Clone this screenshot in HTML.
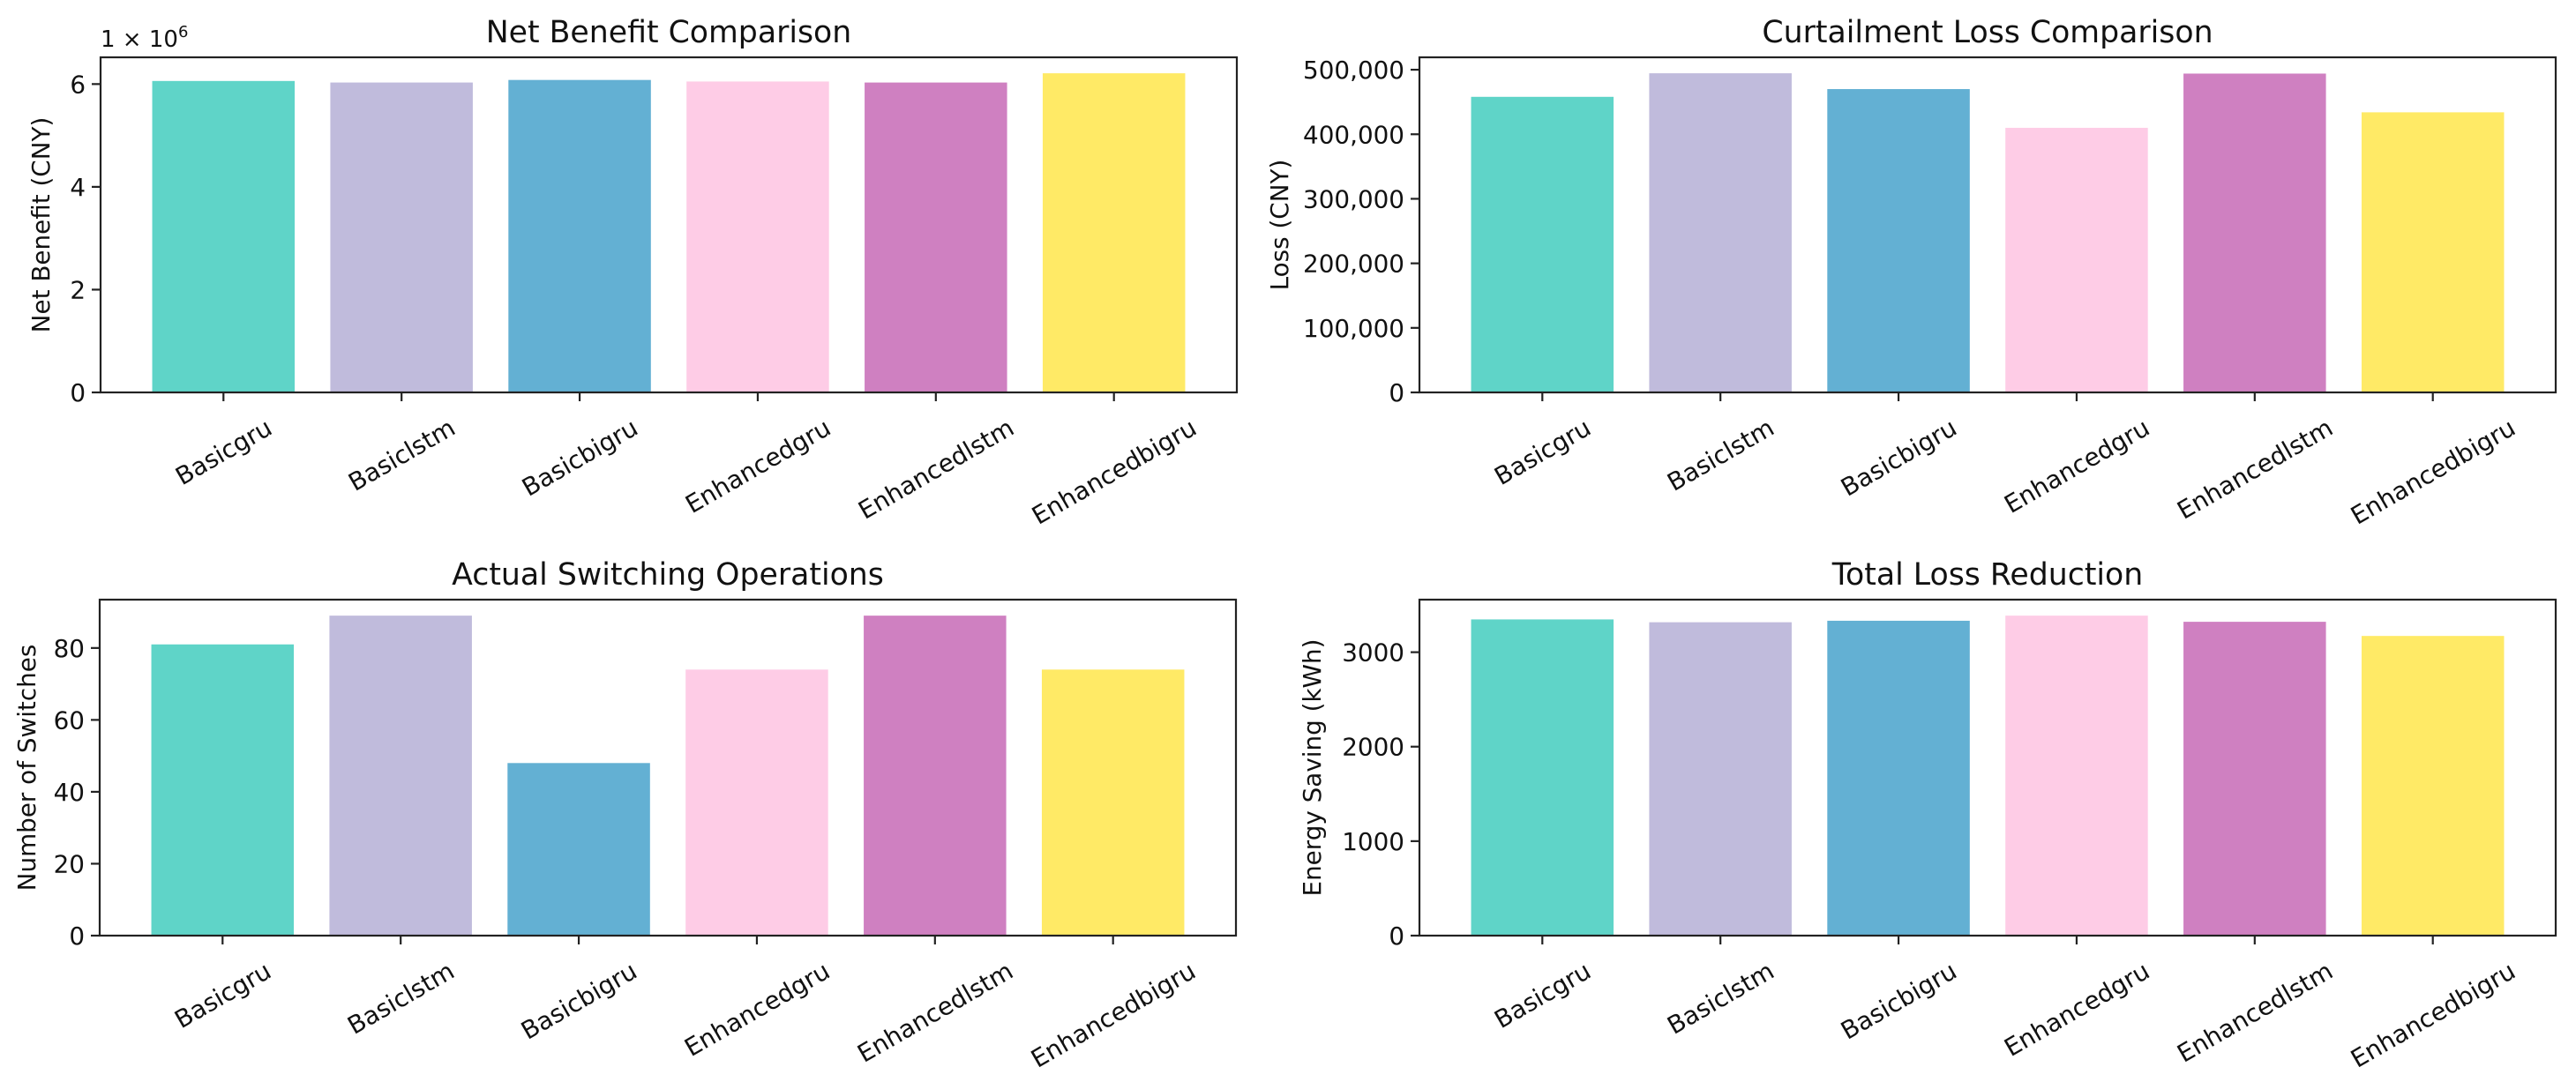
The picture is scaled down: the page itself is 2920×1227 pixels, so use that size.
<!DOCTYPE html>
<html><head><meta charset="utf-8"><style>
html,body{margin:0;padding:0;background:#fff;}
svg{display:block;}
text{font-family:"DejaVu Sans","Liberation Sans",sans-serif;fill:#111;}
</style></head><body>
<svg id="fig" width="2920" height="1227" viewBox="0 0 2920 1227" xmlns="http://www.w3.org/2000/svg"></svg>
<script>
const categories = ["Basicgru","Basiclstm","Basicbigru","Enhancedgru","Enhancedlstm","Enhancedbigru"];
const netBenefit = [6.06e6, 6.03e6, 6.08e6, 6.05e6, 6.03e6, 6.21e6];
const curtailmentLoss = [458000, 494500, 470000, 410000, 494000, 434000];
const switchCount = [81, 89, 48, 74, 89, 74];
const energySaving = [3347, 3317, 3333, 3387, 3322, 3172];
const netBenefitTicks = [0, 2e6, 4e6, 6e6];
const netBenefitTickLabels = ["0","2","4","6"];
const lossTicks = [0,100000,200000,300000,400000,500000];
const lossTickLabels = ["0","100,000","200,000","300,000","400,000","500,000"];
const switchTicks = [0,20,40,60,80];
const switchTickLabels = ["0","20","40","60","80"];
const savingTicks = [0,1000,2000,3000];
const savingTickLabels = ["0","1000","2000","3000"];
const barColors = ["#5fd4c8","#c0bbdc","#63b0d3","#fecce6","#cf80c1","#ffea66"];

const NS = "http://www.w3.org/2000/svg";
const svg = document.getElementById("fig");
function mk(tag, attrs, parent){
  const e = document.createElementNS(NS, tag);
  for (const k in attrs) e.setAttribute(k, attrs[k]);
  (parent||svg).appendChild(e);
  return e;
}
const FS = 27.8;
const TFS = 34.7;

function panel(cfg){
  const g = mk("g", {});
  
  
  const L = cfg.left, R = cfg.right, T = cfg.top, B = cfg.bottom;
  const n = categories.length;
  const xmin = -0.4 - 0.05*(n - 1 + 0.8), xmax = n - 1 + 0.4 + 0.05*(n - 1 + 0.8);
  const sx = v => L + (v - xmin) / (xmax - xmin) * (R - L);
  const ymax = Math.max(...cfg.values) * 1.05;
  const sy = v => B - v / ymax * (B - T);
  cfg.values.forEach((v, i) => {
    const x0 = sx(i - 0.4), x1 = sx(i + 0.4);
    const r = mk("rect", {x: x0, y: sy(v), width: x1 - x0, height: sy(0) - sy(v), fill: barColors[i]}, g);
    
    
  });
  const fr = mk("rect", {x: L, y: T, width: R - L, height: B - T, fill: "none", stroke: "#222", "stroke-width": 2.2}, g);
  
  
  cfg.ticks.forEach((t, i) => {
    const y = sy(t);
    mk("line", {x1: L - 10, x2: L, y1: y, y2: y, stroke: "#222", "stroke-width": 2.2}, g);
    const tx = mk("text", {x: L - 17, y: y + 10, "text-anchor": "end", "font-size": FS}, g);
    tx.textContent = cfg.tickLabels[i];
    
    
  });
  categories.forEach((c, i) => {
    const x = sx(i);
    mk("line", {x1: x, x2: x, y1: B, y2: B + 10, stroke: "#222", "stroke-width": 2.2}, g);
    const tx = mk("text", {x: 0, y: 0, "text-anchor": "middle", "font-size": FS}, g);
    tx.textContent = c;
    
    
    const len = tx.getComputedTextLength();
    const h = FS * 1.0;
    const bh = len * 0.5 + h * 0.866;
    const cy = B + 25 + bh / 2;
    tx.setAttribute("transform", "translate(" + x + "," + cy + ") rotate(-30) translate(0," + (FS * 0.36) + ")");
  });
  const ti = mk("text", {x: (L + R) / 2, y: T - 17, "text-anchor": "middle", "font-size": TFS}, g);
  ti.textContent = cfg.title;
  
  
  const yl = mk("text", {x: 0, y: 0, "text-anchor": "middle", "font-size": FS,
    transform: "translate(" + cfg.ylabelX + "," + ((T + B) / 2) + ") rotate(-90)"}, g);
  yl.textContent = cfg.ylabel;
  
  
  if (cfg.offset) {
    const ot = mk("text", {x: L, y: T - 12, "font-size": 26}, g);
    ot.textContent = "1 × 10";
    
    
    const ts = mk("tspan", {dy: -11, "font-size": 18}, ot);
    ts.textContent = "6";
  }
}

panel({name:"net-benefit-chart", left:114, right:1402, top:65, bottom:445, values:netBenefit,
  ticks:netBenefitTicks, tickLabels:netBenefitTickLabels, title:"Net Benefit Comparison",
  ylabel:"Net Benefit (CNY)", ylabelX:56, offset:true});
panel({name:"curtailment-loss-chart", left:1609, right:2897, top:65, bottom:445, values:curtailmentLoss,
  ticks:lossTicks, tickLabels:lossTickLabels, title:"Curtailment Loss Comparison",
  ylabel:"Loss (CNY)", ylabelX:1460});
panel({name:"switching-operations-chart", left:113, right:1401, top:680, bottom:1061, values:switchCount,
  ticks:switchTicks, tickLabels:switchTickLabels, title:"Actual Switching Operations",
  ylabel:"Number of Switches", ylabelX:40});
panel({name:"loss-reduction-chart", left:1609, right:2897, top:680, bottom:1061, values:energySaving,
  ticks:savingTicks, tickLabels:savingTickLabels, title:"Total Loss Reduction",
  ylabel:"Energy Saving (kWh)", ylabelX:1497});
</script>
</body></html>
